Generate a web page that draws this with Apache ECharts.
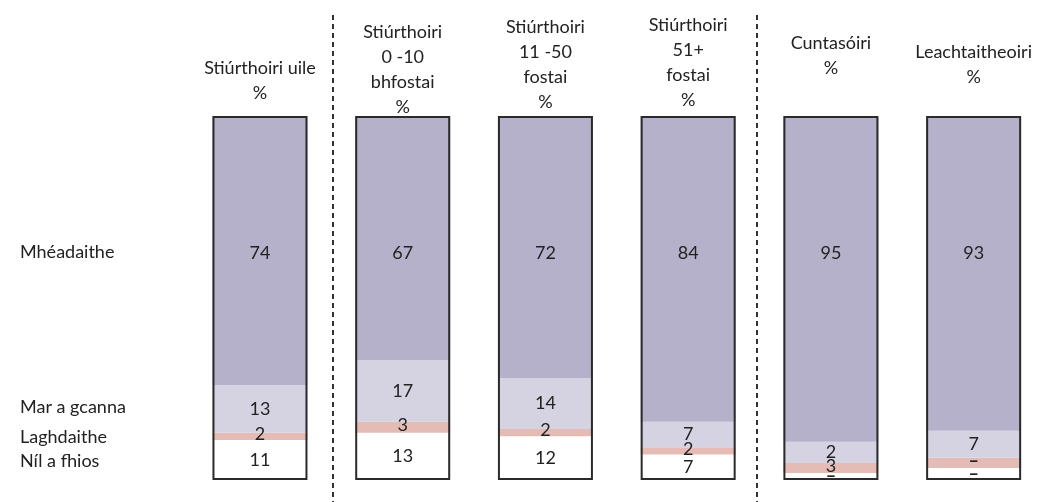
<!DOCTYPE html>
<html>
<head>
<meta charset="utf-8">
<script src="https://cdn.jsdelivr.net/npm/echarts@6/dist/echarts.min.js"></script>
<style>
html,body{margin:0;padding:0;background:#fff;}
#c{width:1055px;height:502px;}
</style>
</head>
<body>
<div id="c"></div>
<script>
// Column headers
var categories = ['Stiúrthoiri uile\n%', 'Stiúrthoiri\n0 -10\nbhfostai\n%', 'Stiúrthoiri\n11 -50\nfostai\n%', 'Stiúrthoiri\n51+\nfostai\n%', 'Cuntasóiri\n%', 'Leachtaitheoiri\n%'];
var headerLift = [14, 0, 5, 7, 39, 30];
// Row labels
var rowNames = ['Mhéadaithe', 'Mar a gcanna', 'Laghdaithe', 'Níl a fhios'];
// Segment heights as drawn in the picture (%)
var mheadaithe = [74, 67, 72, 84, 89.5, 86.5];
var marAGcanna = [13, 17, 14, 7, 5.8, 7.4];
var laghdaithe = [2, 3, 2, 2, 2.8, 2.8];
var nilAFhios = [11, 13, 12, 7, 1.9, 3.3];
// Printed value labels
var labMheadaithe = ['74', '67', '72', '84', '95', '93'];
var labMarAGcanna = ['13', '17', '14', '7', '2', '7'];
var labLaghdaithe = ['2', '3', '2', '2', '3', '–'];
var labNilAFhios = ['11', '13', '12', '7', '–', '–'];

var FONT = 'Lato, "Open Sans", sans-serif';
var FS = 18;
var chart = echarts.init(document.getElementById('c'), null, {renderer: 'canvas'});

function seg(name, data, labels, color, extraLabel) {
  var lbl = Object.assign({
    show: true,
    position: 'inside',
    color: '#222',
    fontFamily: FONT,
    fontSize: FS,
    formatter: function (p) {
      var t = labels[p.dataIndex];
      return t === '–' ? '{d|–}' : t;
    },
    rich: {d: {fontWeight: 'bold', fontSize: FS, color: '#222', fontFamily: FONT}}
  }, extraLabel || {});
  return {
    name: name, type: 'bar', stack: 'a', data: data, barWidth: 95,
    itemStyle: {color: color, borderWidth: 0},
    label: lbl, emphasis: {disabled: true}, silent: true
  };
}

var totals = categories.map(function (c, i) {
  return mheadaithe[i] + marAGcanna[i] + laghdaithe[i] + nilAFhios[i];
});

var catData = categories.map(function (c, i) {
  return {value: c, textStyle: {padding: [0, 0, headerLift[i], 0]}};
});

function rowText(name, cy) {
  return {type: 'text', left: 20, top: cy - 9, style: {text: name, font: FS + 'px ' + FONT, fill: '#222'}};
}

var option = {
  animation: false,
  backgroundColor: '#fff',
  grid: {left: 188.6, right: 10, top: 116, bottom: 22},
  xAxis: {
    type: 'category', position: 'top', data: catData,
    axisLine: {show: false}, axisTick: {show: false},
    axisLabel: {
      color: '#222', fontFamily: FONT, fontSize: FS, lineHeight: 25,
      margin: -4, interval: 0, align: 'center'
    }
  },
  yAxis: {type: 'value', min: 0, max: 100, show: false},
  series: [
    seg(rowNames[3], nilAFhios, labNilAFhios, '#ffffff'),
    seg(rowNames[2], laghdaithe, labLaghdaithe, '#e5bbb5', {offset: [0, -2]}),
    seg(rowNames[1], marAGcanna, labMarAGcanna, '#d5d3e1'),
    seg(rowNames[0], mheadaithe, labMheadaithe, '#b6b1ca', {position: 'insideTop', distance: 128}),
    {
      name: 'outline', type: 'bar', data: totals, barWidth: 95, barGap: '-100%', z: 5,
      itemStyle: {color: 'rgba(0,0,0,0)', borderColor: '#2a2a2a', borderWidth: 2},
      silent: true, emphasis: {disabled: true}
    }
  ],
  graphic: [
    {type: 'line', shape: {x1: 333, y1: 15, x2: 333, y2: 502}, style: {stroke: '#333', lineWidth: 2, lineDash: [5, 4]}},
    {type: 'line', shape: {x1: 757, y1: 15, x2: 757, y2: 502}, style: {stroke: '#333', lineWidth: 2, lineDash: [5, 4]}},
    rowText(rowNames[0], 252),
    rowText(rowNames[1], 407),
    rowText(rowNames[2], 437),
    rowText(rowNames[3], 461)
  ]
};
chart.setOption(option);
</script>
</body>
</html>
